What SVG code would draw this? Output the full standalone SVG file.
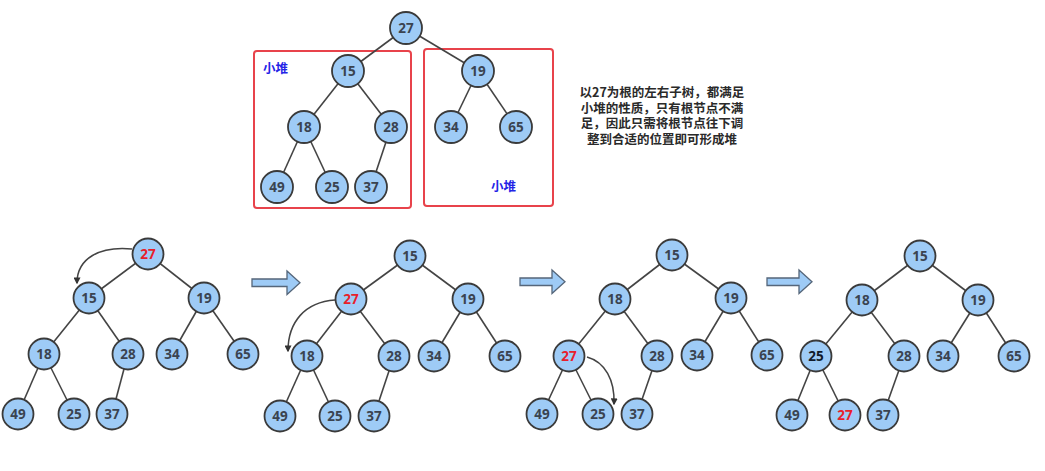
<svg xmlns="http://www.w3.org/2000/svg" width="1045" height="471" viewBox="0 0 1045 471">
<style>
.n circle{fill:#9ecbf6;stroke:#3a3a3a;stroke-width:1.8}
.n text{font-family:"Open Sans","Noto Sans",sans-serif;font-weight:700;font-size:13.5px;fill:#3a4350;text-anchor:middle;dominant-baseline:central}
.n text.r{fill:#e8202a}
.n text.k{fill:#111a2a}
.e line{stroke:#444;stroke-width:1.6}
.box{fill:none;stroke:#e8434b;stroke-width:2}
.lbl{font-family:"Noto Sans CJK SC","Noto Sans",sans-serif;font-weight:700;font-size:12.5px;fill:#2424e6}
.note{font-family:"Noto Sans CJK SC","Noto Sans",sans-serif;font-weight:700;font-size:12.5px;fill:#2a2a2a;text-anchor:middle}
.big{fill:#9ecbf6;stroke:#55667a;stroke-width:1.3}
.cur{fill:none;stroke:#444;stroke-width:1.5}
</style>
<defs>
<marker id="ah" viewBox="0 0 10 10" refX="8" refY="5" markerWidth="7" markerHeight="7" orient="auto-start-reverse" markerUnits="userSpaceOnUse"><path d="M0,0 L10,5 L0,10 z" fill="#333"/></marker>
</defs>
<rect width="1045" height="471" fill="#fff"/>

<rect class="box" x="254" y="51" width="157" height="157" rx="3"/>
<rect class="box" x="424" y="49" width="129" height="157" rx="3"/>
<text class="lbl" x="263" y="73">小堆</text>
<text class="lbl" x="491" y="191">小堆</text>
<g id="note">
<text class="note" x="662" y="97">以27为根的左右子树，都满足</text>
<text class="note" x="662" y="113">小堆的性质，只有根节点不满</text>
<text class="note" x="662" y="128">足，因此只需将根节点往下调</text>
<text class="note" x="662" y="144">整到合适的位置即可形成堆</text>
</g>

<g id="connectors">
<g class="e">
<line x1="406" y1="28" x2="348" y2="71"/><line x1="406" y1="28" x2="478" y2="71"/>
<line x1="348" y1="71" x2="304" y2="127"/><line x1="348" y1="71" x2="391" y2="127"/>
<line x1="478" y1="71" x2="451" y2="127"/><line x1="478" y1="71" x2="516" y2="127"/>
<line x1="304" y1="127" x2="277" y2="187"/><line x1="304" y1="127" x2="332" y2="187"/>
<line x1="391" y1="127" x2="371" y2="187"/>

<line x1="148" y1="254" x2="89" y2="298"/><line x1="148" y1="254" x2="204" y2="298"/>
<line x1="89" y1="298" x2="44" y2="354"/><line x1="89" y1="298" x2="128" y2="354"/>
<line x1="204" y1="298" x2="172" y2="354"/><line x1="204" y1="298" x2="243" y2="354"/>
<line x1="44" y1="354" x2="18" y2="414"/><line x1="44" y1="354" x2="74" y2="414"/>
<line x1="128" y1="354" x2="112" y2="414"/>

<line x1="410" y1="256" x2="351" y2="299"/><line x1="410" y1="256" x2="468" y2="299"/>
<line x1="351" y1="299" x2="307" y2="356"/><line x1="351" y1="299" x2="394" y2="356"/>
<line x1="468" y1="299" x2="434" y2="356"/><line x1="468" y1="299" x2="505" y2="356"/>
<line x1="307" y1="356" x2="280" y2="416"/><line x1="307" y1="356" x2="335" y2="416"/>
<line x1="394" y1="356" x2="374" y2="416"/>

<line x1="672" y1="255" x2="615" y2="299"/><line x1="672" y1="255" x2="731" y2="298"/>
<line x1="615" y1="299" x2="569" y2="356"/><line x1="615" y1="299" x2="657" y2="356"/>
<line x1="731" y1="298" x2="697" y2="355"/><line x1="731" y1="298" x2="767" y2="355"/>
<line x1="569" y1="356" x2="542" y2="414"/><line x1="569" y1="356" x2="598" y2="414"/>
<line x1="657" y1="356" x2="637" y2="414"/>

<line x1="920" y1="256" x2="862" y2="300"/><line x1="920" y1="256" x2="978" y2="300"/>
<line x1="862" y1="300" x2="816" y2="356"/><line x1="862" y1="300" x2="904" y2="356"/>
<line x1="978" y1="300" x2="943" y2="356"/><line x1="978" y1="300" x2="1014" y2="356"/>
<line x1="816" y1="356" x2="792" y2="415"/><line x1="816" y1="356" x2="845" y2="415"/>
<line x1="904" y1="356" x2="883" y2="415"/>
</g>
<path class="cur" d="M132,249 C100,246 77,258 77,283" marker-end="url(#ah)"/>
<path class="cur" d="M335,300 C305,302 288,322 288,351" marker-end="url(#ah)"/>
<path class="cur" d="M587,357 C605,362 615,380 614,404" marker-end="url(#ah)"/>
<path class="big" d="M252,279 L287,279 L287,271 L300,282.7 L287,294.5 L287,286.5 L252,286.5 Z"/>
<path class="big" d="M520,278 L552,278 L552,270 L565,281.7 L552,293.5 L552,285.5 L520,285.5 Z"/>
<path class="big" d="M767,278 L799,278 L799,270 L812,281.7 L799,293.5 L799,285.5 L767,285.5 Z"/>
</g>

<g id="top-27" class="n"><circle cx="406" cy="28" r="16"/><text x="406" y="28">27</text></g>
<g id="top-15" class="n"><circle cx="348" cy="71" r="16"/><text x="348" y="71">15</text></g>
<g id="top-19" class="n"><circle cx="478" cy="71" r="16"/><text x="478" y="71">19</text></g>
<g id="top-18" class="n"><circle cx="304" cy="127" r="16"/><text x="304" y="127">18</text></g>
<g id="top-28" class="n"><circle cx="391" cy="127" r="16"/><text x="391" y="127">28</text></g>
<g id="top-34" class="n"><circle cx="451" cy="127" r="16"/><text x="451" y="127">34</text></g>
<g id="top-65" class="n"><circle cx="516" cy="127" r="16"/><text x="516" y="127">65</text></g>
<g id="top-49" class="n"><circle cx="277" cy="187" r="16"/><text x="277" y="187">49</text></g>
<g id="top-25" class="n"><circle cx="332" cy="187" r="16"/><text x="332" y="187">25</text></g>
<g id="top-37" class="n"><circle cx="371" cy="187" r="16"/><text x="371" y="187">37</text></g>

<g id="a-27" class="n"><circle cx="148" cy="254" r="15.5"/><text class="r" x="148" y="254">27</text></g>
<g id="a-15" class="n"><circle cx="89" cy="298" r="15.5"/><text x="89" y="298">15</text></g>
<g id="a-19" class="n"><circle cx="204" cy="298" r="15.5"/><text x="204" y="298">19</text></g>
<g id="a-18" class="n"><circle cx="44" cy="354" r="15.5"/><text x="44" y="354">18</text></g>
<g id="a-28" class="n"><circle cx="128" cy="354" r="15.5"/><text x="128" y="354">28</text></g>
<g id="a-34" class="n"><circle cx="172" cy="354" r="15.5"/><text x="172" y="354">34</text></g>
<g id="a-65" class="n"><circle cx="243" cy="354" r="15.5"/><text x="243" y="354">65</text></g>
<g id="a-49" class="n"><circle cx="18" cy="414" r="15.5"/><text x="18" y="414">49</text></g>
<g id="a-25" class="n"><circle cx="74" cy="414" r="15.5"/><text x="74" y="414">25</text></g>
<g id="a-37" class="n"><circle cx="112" cy="414" r="15.5"/><text x="112" y="414">37</text></g>

<g id="b-15" class="n"><circle cx="410" cy="256" r="15.5"/><text x="410" y="256">15</text></g>
<g id="b-27" class="n"><circle cx="351" cy="299" r="15.5"/><text class="r" x="351" y="299">27</text></g>
<g id="b-19" class="n"><circle cx="468" cy="299" r="15.5"/><text x="468" y="299">19</text></g>
<g id="b-18" class="n"><circle cx="307" cy="356" r="15.5"/><text x="307" y="356">18</text></g>
<g id="b-28" class="n"><circle cx="394" cy="356" r="15.5"/><text x="394" y="356">28</text></g>
<g id="b-34" class="n"><circle cx="434" cy="356" r="15.5"/><text x="434" y="356">34</text></g>
<g id="b-65" class="n"><circle cx="505" cy="356" r="15.5"/><text x="505" y="356">65</text></g>
<g id="b-49" class="n"><circle cx="280" cy="416" r="15.5"/><text x="280" y="416">49</text></g>
<g id="b-25" class="n"><circle cx="335" cy="416" r="15.5"/><text x="335" y="416">25</text></g>
<g id="b-37" class="n"><circle cx="374" cy="416" r="15.5"/><text x="374" y="416">37</text></g>

<g id="c-15" class="n"><circle cx="672" cy="255" r="15.5"/><text x="672" y="255">15</text></g>
<g id="c-18" class="n"><circle cx="615" cy="299" r="15.5"/><text x="615" y="299">18</text></g>
<g id="c-19" class="n"><circle cx="731" cy="298" r="15.5"/><text x="731" y="298">19</text></g>
<g id="c-27" class="n"><circle cx="569" cy="356" r="15.5"/><text class="r" x="569" y="356">27</text></g>
<g id="c-28" class="n"><circle cx="657" cy="356" r="15.5"/><text x="657" y="356">28</text></g>
<g id="c-34" class="n"><circle cx="697" cy="355" r="15.5"/><text x="697" y="355">34</text></g>
<g id="c-65" class="n"><circle cx="767" cy="355" r="15.5"/><text x="767" y="355">65</text></g>
<g id="c-49" class="n"><circle cx="542" cy="414" r="15.5"/><text x="542" y="414">49</text></g>
<g id="c-25" class="n"><circle cx="598" cy="414" r="15.5"/><text x="598" y="414">25</text></g>
<g id="c-37" class="n"><circle cx="637" cy="414" r="15.5"/><text x="637" y="414">37</text></g>

<g id="d-15" class="n"><circle cx="920" cy="256" r="15.5"/><text x="920" y="256">15</text></g>
<g id="d-18" class="n"><circle cx="862" cy="300" r="15.5"/><text x="862" y="300">18</text></g>
<g id="d-19" class="n"><circle cx="978" cy="300" r="15.5"/><text x="978" y="300">19</text></g>
<g id="d-25" class="n"><circle cx="816" cy="356" r="15.5"/><text class="k" x="816" y="356">25</text></g>
<g id="d-28" class="n"><circle cx="904" cy="356" r="15.5"/><text x="904" y="356">28</text></g>
<g id="d-34" class="n"><circle cx="943" cy="356" r="15.5"/><text x="943" y="356">34</text></g>
<g id="d-65" class="n"><circle cx="1014" cy="356" r="15.5"/><text x="1014" y="356">65</text></g>
<g id="d-49" class="n"><circle cx="792" cy="415" r="15.5"/><text x="792" y="415">49</text></g>
<g id="d-27" class="n"><circle cx="845" cy="415" r="15.5"/><text class="r" x="845" y="415">27</text></g>
<g id="d-37" class="n"><circle cx="883" cy="415" r="15.5"/><text x="883" y="415">37</text></g>
</svg>
